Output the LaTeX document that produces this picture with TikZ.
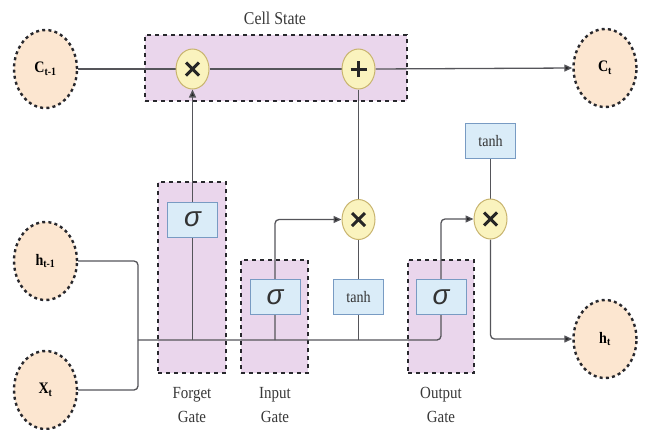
\documentclass[tikz,border=0pt]{standalone}
\usepackage{fontspec}
\setmainfont{Liberation Serif}[FakeStretch=0.88]
\newfontfamily\sigfont{Liberation Sans}
\usetikzlibrary{arrows.meta,shapes.geometric}
\pgfdeclarelayer{back}
\pgfdeclarelayer{mid}
\pgfsetlayers{back,mid,main}
\definecolor{peach}{RGB}{252,230,208}
\definecolor{lav}{RGB}{234,214,236}
\definecolor{boxblue}{RGB}{218,236,248}
\definecolor{boxedge}{RGB}{120,155,195}
\definecolor{opfill}{RGB}{250,243,190}
\definecolor{opedge}{RGB}{200,180,110}
\definecolor{wirec}{RGB}{85,85,90}
\definecolor{dashc}{RGB}{40,40,45}
\begin{document}
\begin{tikzpicture}[x=1pt,y=-1pt,
 state/.style={ellipse, fill=peach, draw=dashc, line width=2.4pt, dash pattern=on 3pt off 3.2pt,
   minimum width=63pt, minimum height=78pt, inner sep=0pt, font=\bfseries\fontsize{16}{18}\selectfont},
 gatebox/.style={rectangle, fill=lav, draw=dashc, line width=2pt, dash pattern=on 4pt off 4pt, inner sep=0pt},
 fnbox/.style={rectangle, fill=boxblue, draw=boxedge, line width=1pt, minimum width=50pt,
   minimum height=35pt, inner sep=0pt, font=\fontsize{16}{18}\selectfont, text=black!80},
 sig/.style={fnbox, font=\sigfont\itshape\fontsize{28}{28}\selectfont},
 op/.style={ellipse, fill=opfill, draw=opedge, line width=1pt, minimum width=33pt, minimum height=40pt, inner sep=0pt},
 wire/.style={draw=wirec, line width=1.3pt, rounded corners=4pt},
 arr/.style={wire, -{Triangle[length=8pt,width=7pt,fill=black!85]}},
 opline/.style={line width=3pt, draw=black!85},
 lbl/.style={font=\fontsize{17}{24}\selectfont, align=center, text=black!78},
]
\useasboundingbox (0,0) rectangle (645,429);
\begin{pgfonlayer}{back}
\node[gatebox, minimum width=262pt, minimum height=66pt] (cell) at (276,68) {};
\node[gatebox, minimum width=68pt, minimum height=191pt] (fg) at (192,277.5) {};
\node[gatebox, minimum width=67pt, minimum height=113pt] (ig) at (274.5,316.5) {};
\node[gatebox, minimum width=66pt, minimum height=113pt] (og) at (441,316.5) {};
\end{pgfonlayer}

\node[font=\fontsize{18}{20}\selectfont, text=black!78] (celllbl) at (275,18) {Cell State};
\node[lbl] (fgl) at (192,405) {Forget\\Gate};
\node[lbl] (igl) at (275,405) {Input\\Gate};
\node[lbl] (ogl) at (441,405) {Output\\Gate};

\node[state] (cprev) at (45.5,69) {C\textsubscript{t-1}};
\node[state] (cnext) at (605,68) {C\textsubscript{t}};
\node[state] (hprev) at (45.5,261) {h\textsubscript{t-1}};
\node[state] (xt) at (45.5,390) {X\textsubscript{t}};
\node[state] (ht) at (605,339) {h\textsubscript{t}};

\node[op] (mf) at (192.5,69) {};
\node[op] (add) at (358.5,69) {};
\node[op] (mi) at (358.5,219.5) {};
\node[op] (mo) at (490.5,219) {};

\node[sig] (sf) at (192.5,219.5) {σ};
\node[sig] (si) at (275,297) {σ};
\node[sig] (so) at (441,297) {σ};
\node[fnbox] (tl) at (358.5,297) {tanh};
\node[fnbox] (tu) at (490.5,141) {tanh};

\coordinate (jx) at (138,340);

\foreach \n in {mf,mi,mo}{
  \draw[opline] ([shift={(-6.5,-6.5)}]\n.center) -- ([shift={(6.5,6.5)}]\n.center)
                ([shift={(-6.5,6.5)}]\n.center) -- ([shift={(6.5,-6.5)}]\n.center);
}
\draw[opline] ([shift={(-8,0)}]add.center) -- ([shift={(8,0)}]add.center)
              ([shift={(0,-8)}]add.center) -- ([shift={(0,8)}]add.center);

\begin{pgfonlayer}{mid}
\draw[wire] (cprev.east) -- (mf.west);
\draw[wire] (mf.east) -- (add.west);
\draw[arr] (add.east) -- (cnext.west);
\draw[wire] (hprev.east) -| (jx);
\draw[wire] (xt.east) -| (jx);
\draw[arr] (jx) -| (so.center) |- (mo.west);
\draw[arr] (sf |- jx) -- (mf.south);
\draw[arr] (si |- jx) |- (mi.west);
\draw[wire] (tl |- jx) -- (mi.south);
\draw[wire] (mi.north) -- (add.south);
\draw[wire] (tu.south) -- (mo.north);
\draw[arr] (mo.south) |- (ht.west);
\end{pgfonlayer}
\end{tikzpicture}
\end{document}
